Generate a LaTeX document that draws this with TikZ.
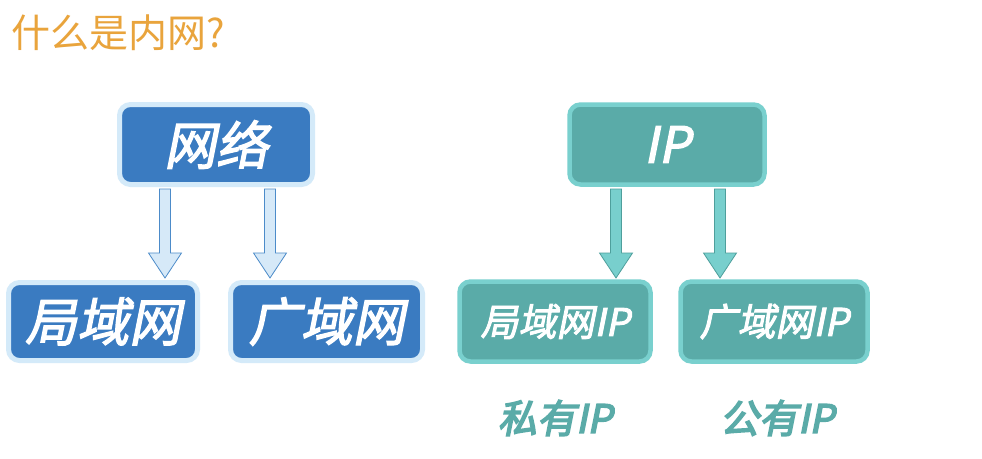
\documentclass[tikz,border=0pt]{standalone}
\usepackage{fontspec}
\usetikzlibrary{calc}
\newfontfamily\cjk{Noto Sans CJK SC}
\newfontfamily\cjkbi[FakeSlant=0.2,FakeBold=2.5]{Noto Sans CJK SC}
\newfontfamily\cjkhi[FakeSlant=0.2,FakeBold=4]{Noto Sans CJK SC}
\definecolor{titleorange}{HTML}{E9A43C}
\definecolor{netblue}{HTML}{3A7BC1}
\definecolor{netglow}{HTML}{D4EAF9}
\definecolor{arrblue}{HTML}{D6E9F8}
\definecolor{arrblueline}{HTML}{4C8BC9}
\definecolor{ipteal}{HTML}{5AABA8}
\definecolor{ipglow}{HTML}{79D0CE}
\definecolor{arrteal}{HTML}{78CFCD}
\definecolor{arrtealline}{HTML}{4E9F9C}
\newcommand\fatarrow[3]{%
  \draw[#1] let \p1=(#2), \p2=(#3) in
    (\x1-5.5pt,\y1) -- (\x1-5.5pt,\y2+25pt) -- (\x1-16.5pt,\y2+25pt) --
    (\x2,\y2) -- (\x1+16.5pt,\y2+25pt) -- (\x1+5.5pt,\y2+25pt) --
    (\x1+5.5pt,\y1) -- cycle;}
\begin{document}
\begin{tikzpicture}[x=1pt,y=-1pt,
  bluebox/.style={draw=netglow, line width=5pt, fill=netblue, rounded corners=11pt,
    text=white, font=\cjkbi\fontsize{52}{52}\selectfont, inner sep=0pt, minimum height=78pt},
  tealbox/.style={draw=ipglow, line width=4.5pt, fill=ipteal, rounded corners=11pt,
    text=white, inner sep=0pt, minimum height=80pt},
  bluearrow/.style={draw=arrblueline, line width=0.8pt, fill=arrblue},
  tealarrow/.style={draw=arrtealline, line width=0.8pt, fill=arrteal},
  sublabel/.style={text=ipteal, font=\cjkhi\fontsize{39}{39}\selectfont}]
\useasboundingbox (0,0) rectangle (982,458);
\fill[white] (0,0) rectangle (982,458);
\node[anchor=west, text=titleorange, font=\cjk\fontsize{39}{39}\selectfont] (title) at (8,33) {什么是内网?};

\node[bluebox, minimum width=193pt, minimum height=80pt] (net) at (216,144.5) {网络};
\node[bluebox, minimum width=189pt] (lan) at (103,321.5) {局域网};
\node[bluebox, minimum width=192pt] (wan) at (326.5,321.5) {广域网};

\coordinate (t1) at (165,278);
\coordinate (t2) at (270,278);
\fatarrow{bluearrow}{t1 |- 0,189}{t1}
\fatarrow{bluearrow}{t2 |- 0,189}{t2}

\node[tealbox, minimum width=195pt, font=\cjkbi\fontsize{50}{50}\selectfont] (ip) at (667,144.5) {IP};
\node[tealbox, minimum width=191pt, font=\cjkbi\fontsize{38}{38}\selectfont] (lanip) at (555,321.5) {局域网IP};
\node[tealbox, minimum width=187pt, font=\cjkbi\fontsize{38}{38}\selectfont] (wanip) at (774,321.5) {广域网IP};

\coordinate (t3) at (616,278);
\coordinate (t4) at (720,278);
\fatarrow{tealarrow}{t3 |- 0,189}{t3}
\fatarrow{tealarrow}{t4 |- 0,189}{t4}

\node[sublabel] (priv) at (555,418) {私有IP};
\node[sublabel] (pub) at (777,418) {公有IP};
\end{tikzpicture}
\end{document}
